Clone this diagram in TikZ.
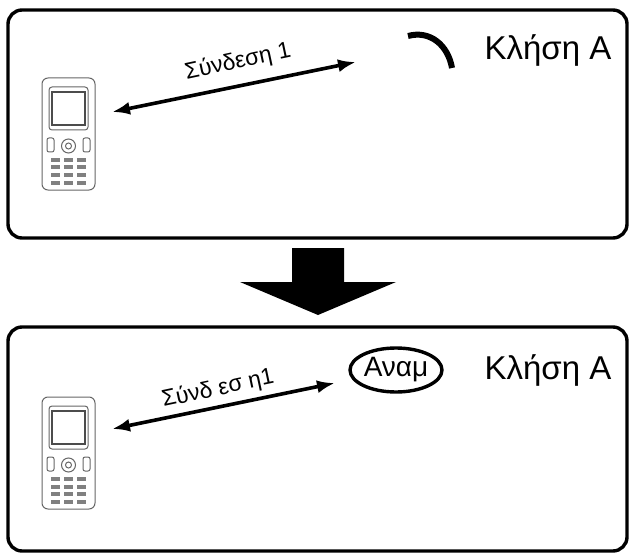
\documentclass[tikz,border=0pt]{standalone}
\usepackage{fontspec}
\setmainfont{Liberation Sans}
\usetikzlibrary{shapes.geometric,arrows.meta}
\tikzset{panel/.style={draw,line width=3.4pt,rounded corners=14pt},
conn/.style={line width=3.6pt,{Latex[length=18pt,width=13pt]}-{Latex[length=18pt,width=13pt]}},
lbl/.style={font=\fontsize{23}{23}\selectfont},
big/.style={font=\fontsize{33}{33}\selectfont}}
\newcommand{\myphone}[2]{%
\begin{scope}[shift={(#1,#2)},gray!80!black,line width=1pt]
\draw[rounded corners=6pt] (0,0) rectangle (53,112);
\draw[line width=1.8pt,black!70] (10,14) rectangle (43,47);
\draw[rounded corners=3pt] (7,9) rectangle (46,52);
\draw (26.5,68) circle (7);
\draw (26.5,68) circle (3);
\draw[rounded corners=2pt] (5,60) rectangle (12,74);
\draw[rounded corners=2pt] (41,60) rectangle (48,74);
\foreach \i in {0,1,2,3} \foreach \j in {0,1,2}
 \fill[gray] (9+\j*13,80+\i*7.5) rectangle (18+\j*13,84+\i*7.5);
\end{scope}}
\begin{document}
\begin{tikzpicture}[x=1pt,y=-1pt]
\useasboundingbox (0,0) rectangle (631,556);
\node[panel,minimum width=619pt,minimum height=228pt] (top) at (317.5,124) {};
\node[panel,minimum width=619pt,minimum height=224pt] (bot) at (317.5,439) {};
% big arrow
\fill (292,248) -- (344,248) -- (344,282) -- (396,282) -- (318,315) -- (240,282) -- (292,282) -- cycle;
% top panel
\myphone{42}{78}
\coordinate (pa) at (112,112);
\coordinate (pb) at (356,62);
\draw[conn] (pa) -- (pb);
\node[lbl,rotate=12] (l1) at (238,62) {Σύνδεση 1};
\draw[line width=6pt] (408,36) .. controls (430,30) and (448,45) .. (452,68);
\node[big] (k1) at (548,50) {Κλήση A};
% bottom panel
\myphone{42}{397}
\coordinate (qa) at (112,429);
\coordinate (qb) at (335,383);
\draw[conn] (qa) -- (qb);
\node[lbl,rotate=12] (l2) at (218,389) {Σύνδ εσ η1};
\node[draw,ellipse,line width=3.4pt,minimum width=92pt,minimum height=44pt,inner sep=0pt,font=\fontsize{28}{28}\selectfont] (wait) at (396,370) {Αναμ};
\node[big] (k2) at (548,370) {Κλήση A};
\end{tikzpicture}
\end{document}
